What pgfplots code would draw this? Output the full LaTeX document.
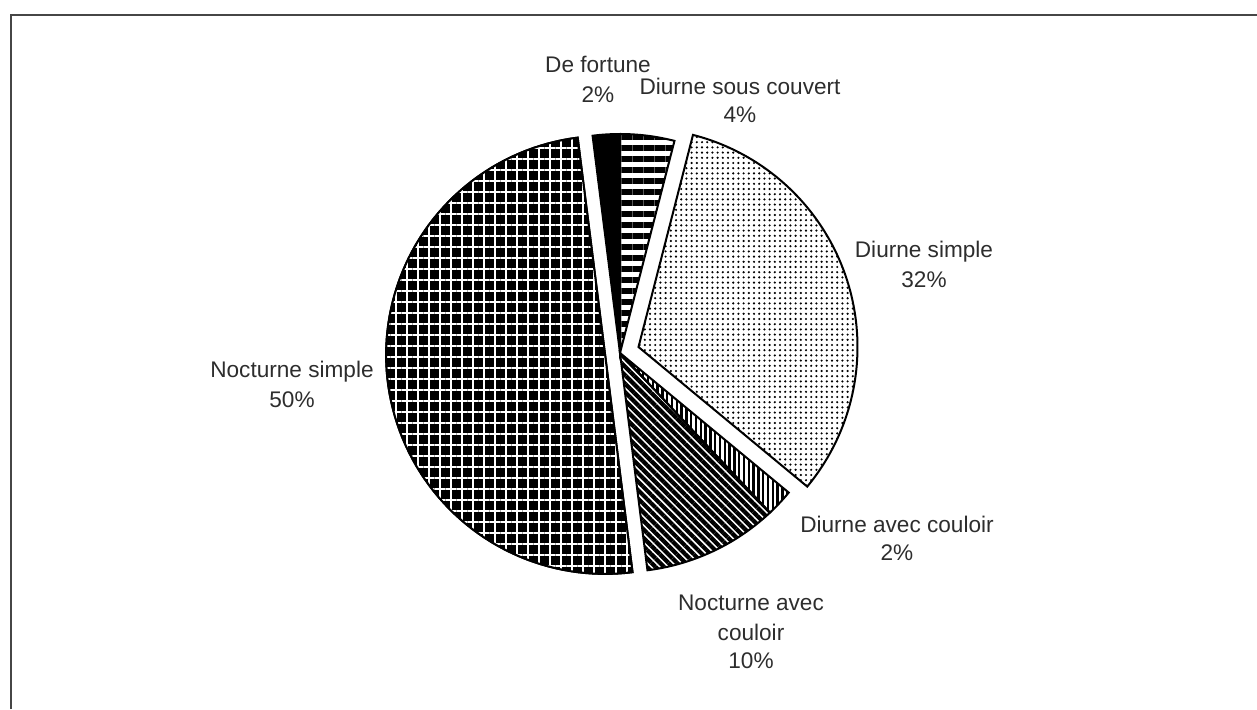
\documentclass[border=0pt]{standalone}
\usepackage{fontspec}
\setmainfont{Liberation Sans}
\usepackage{pgfplots}
\pgfplotsset{compat=1.18}
\usetikzlibrary{patterns.meta}
\definecolor{txt}{RGB}{45,45,45}
\definecolor{frm}{RGB}{70,70,70}
% slice: #1 cumulative percent before, #2 percent, #3 cx, #4 cy, #5 style
\newcommand\slice[5]{%
  \addplot[#5, domain={90-3.6*(#1+#2)}:{90-3.6*(#1)}, samples=90, variable=\t]
    ({#3+219*cos(\t)},{#4+219*sin(\t)}) -- (axis cs:#3,#4) -- cycle;}
\newcommand\lab[3]{\node[anchor=base, text=txt, font=\fontsize{11.3}{14}\selectfont] at (axis cs:#1,#2) {#3};}
\begin{document}
\begin{tikzpicture}
\useasboundingbox (0,0) rectangle (628.5pt,354.5pt);
\begin{axis}[
  at={(0,0)}, anchor=south west,
  width=628.5pt, height=354.5pt, scale only axis,
  xmin=0, xmax=1257, ymin=0, ymax=709,
  hide axis, clip=false, no markers]
% frame
\draw[frm, line width=1pt] (axis cs:11,0) -- (axis cs:11,694) -- (axis cs:1257,694);
% Diurne sous couvert 4%
\slice{0}{4}{620}{356}{draw=black, line width=1pt, pattern={Lines[angle=0,distance=5.5pt,line width=2.6pt]}}
% Diurne simple 32%
\slice{4}{32}{638.5}{362}{draw=black, line width=1pt, pattern={Dots[distance=2.6pt,radius=0.6pt]}}
% Diurne avec couloir 2%
\slice{36}{2}{620}{356}{draw=black, line width=1pt, pattern={Lines[angle=90,distance=2.4pt,line width=1.2pt]}}
% Nocturne avec couloir 10%
\slice{38}{10}{620}{356}{draw=black, line width=1pt, pattern={Lines[angle=-45,distance=3pt,line width=2.1pt]}}
% Nocturne simple 50%: black ground, white grid
\slice{48}{50}{605.1}{354.1}{fill=black, draw=black, line width=1pt}
\slice{48}{50}{605.1}{354.1}{draw=black, line width=1pt, pattern={Hatch[angle=0,distance=5.5pt,line width=1.4pt]}, pattern color=white}
% De fortune 2%
\slice{98}{2}{620}{356}{fill=black, draw=black, line width=1pt}
% labels
\lab{598}{636}{De fortune}
\lab{598}{606}{2\%}
\lab{740}{614}{Diurne sous couvert}
\lab{740}{586}{4\%}
\lab{924}{452}{Diurne simple}
\lab{924}{422}{32\%}
\lab{292}{332}{Nocturne simple}
\lab{292}{302}{50\%}
\lab{897}{177}{Diurne avec couloir}
\lab{897}{149}{2\%}
\lab{751}{99}{Nocturne avec}
\lab{751}{69}{couloir}
\lab{751}{41}{10\%}
\end{axis}
\end{tikzpicture}
\end{document}
